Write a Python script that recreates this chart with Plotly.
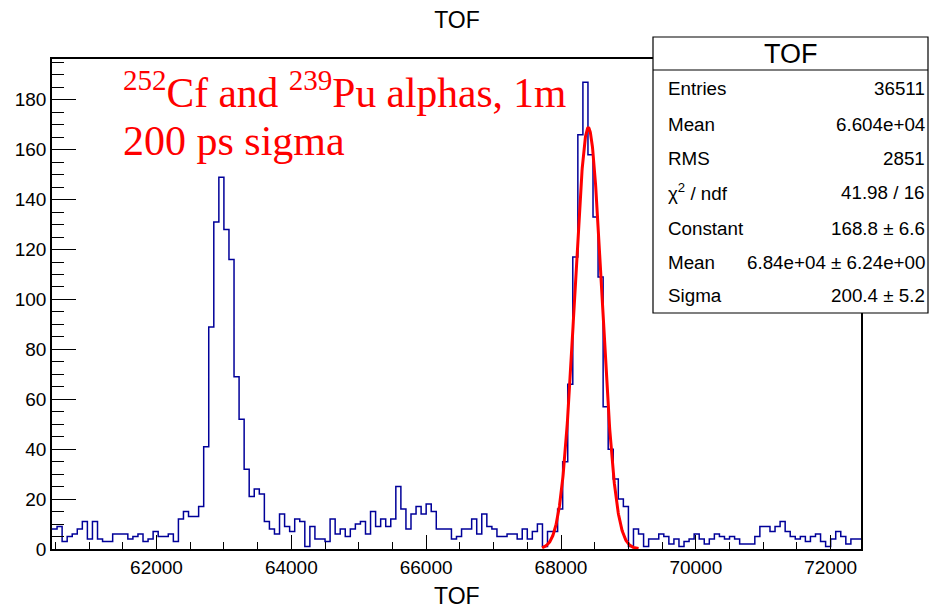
import numpy as np
import plotly.graph_objects as go

# ---------------- data ----------------
bin_lo = 60450.0
bin_width = 75.0
counts = [
    8, 9, 3, 5, 6, 8, 11, 4, 11, 4, 3, 3, 6, 6, 6, 4, 5, 6, 3, 4,
    7, 5, 5, 6, 3, 12, 15, 13, 13, 17, 41,
    89, 131, 149, 128, 116, 69, 52, 32, 21, 24, 22,
    11, 8, 6, 14, 9, 7, 12, 11, 1, 9, 4, 4, 3, 12, 6, 8, 5, 8,
    10, 11, 6, 15, 9, 12, 9, 12, 25, 16,
    8, 14, 17, 14, 18, 15, 8, 8, 8, 4, 5, 8, 8, 12, 6, 14, 9, 8, 5, 5,
    6, 6, 4, 8, 4, 7, 10, 1, 7, 7,
    16, 35, 66, 117, 166, 187, 158, 133, 109, 57, 40, 28, 20,
    17, 1, 8, 6, 1, 4, 4, 6, 5, 2,
    4, 1, 3, 4, 6, 4, 2, 4, 6, 5,
    4, 5, 4, 2, 2, 2, 5, 9, 9, 7,
    9, 11, 7, 5, 4, 5, 3, 5, 6, 3,
    1, 4, 7, 5, 2, 4, 4,
]

# Gaussian fit parameters (from the stats box)
fit_constant = 168.8
fit_mean = 68405.0
fit_sigma = 200.4
fit_range = [67720.0, 69150.0]

stat_labels = ["Entries", "Mean", "RMS", "χ<sup>2</sup> / ndf",
               "Constant", "Mean", "Sigma"]
stat_values = ["36511", "6.604e+04", "2851", "41.98 / 16",
               "168.8 ± 6.6", "6.84e+04 ± 6.24e+00", "200.4 ± 5.2"]

x_tick_start, x_tick_step = 62000, 2000
y_tick_step = 20

# ---------------- figure ----------------
W, H = 930, 608
ML, MR, MT, MB = 52, 69, 59, 59
PW, PH = W - ML - MR, H - MT - MB


def px_x(px):
    return (px - ML) / PW


def px_y(py):
    return (H - MB - py) / PH


edges = bin_lo + bin_width * np.arange(len(counts) + 1)
hx = list(edges)
hy = list(counts) + [counts[-1]]

xf = np.linspace(fit_range[0], fit_range[1], 400)
yf = fit_constant * np.exp(-0.5 * ((xf - fit_mean) / fit_sigma) ** 2)

fig = go.Figure()
fig.add_trace(go.Scatter(x=hx, y=hy, mode="lines", line_shape="hv",
                         line=dict(color="#000099", width=1.5),
                         showlegend=False, hoverinfo="skip"))
fig.add_trace(go.Scatter(x=xf, y=yf, mode="lines",
                         line=dict(color="#ff0000", width=3),
                         showlegend=False, hoverinfo="skip"))

font_main = "Liberation Sans, Arial, Helvetica, sans-serif"
font_serif = "Liberation Serif, Times New Roman, serif"

ymax = max(counts) * 1.05

fig.update_layout(
    width=W, height=H, autosize=False,
    margin=dict(l=ML, r=MR, t=MT, b=MB, pad=0),
    paper_bgcolor="white", plot_bgcolor="white",
    font=dict(family=font_main, color="black", size=19),
    title=dict(text="TOF", x=px_x(457), xref="paper", xanchor="center",
               y=1 - 20 / H, yref="container", yanchor="middle",
               font=dict(size=23, family=font_main, color="black")),
    xaxis=dict(range=[bin_lo, edges[-1]], showline=True, linecolor="black",
               linewidth=1.5, mirror=True, ticks="inside", ticklen=14,
               tickwidth=1.2, tickcolor="black", tickmode="linear",
               tick0=x_tick_start, dtick=x_tick_step, tickformat="d",
               showgrid=False, zeroline=False,
               tickfont=dict(size=19, family=font_main, color="black"),
               minor=dict(ticks="inside", ticklen=7, dtick=500,
                          tick0=x_tick_start, tickcolor="black",
                          tickwidth=1, showgrid=False)),
    yaxis=dict(range=[0, ymax], showline=True, linecolor="black",
               linewidth=1.5, mirror=True, ticks="inside", ticklen=24,
               tickwidth=1.2, tickcolor="black", tickmode="linear",
               tick0=0, dtick=y_tick_step, showgrid=False, zeroline=False,
               tickfont=dict(size=19, family=font_main, color="black"),
               minor=dict(ticks="inside", ticklen=12, dtick=5, tick0=0,
                          tickcolor="black", tickwidth=1, showgrid=False)),
)

# x-axis title
fig.add_annotation(text="TOF", xref="paper", yref="paper",
                   x=px_x(457), y=px_y(596), xanchor="center",
                   yanchor="middle", showarrow=False,
                   font=dict(size=23, family=font_main, color="black"))

# red text
fig.add_annotation(text="<sup>252</sup>Cf and <sup>239</sup>Pu alphas, 1m",
                   xref="paper", yref="paper", x=px_x(121), y=px_y(90),
                   xanchor="left", yanchor="middle", showarrow=False,
                   font=dict(size=41.5, family=font_serif, color="#ff0000"))
fig.add_annotation(text="200 ps sigma",
                   xref="paper", yref="paper", x=px_x(121), y=px_y(141),
                   xanchor="left", yanchor="middle", showarrow=False,
                   font=dict(size=42, family=font_serif, color="#ff0000"))

# stats box
bx0, bx1, by0, by1 = 653, 928, 37, 313
fig.add_shape(type="rect", xref="paper", yref="paper",
              x0=px_x(bx0), x1=px_x(bx1), y0=px_y(by1), y1=px_y(by0),
              line=dict(color="black", width=1.2), fillcolor="white",
              layer="above")
fig.add_shape(type="line", xref="paper", yref="paper",
              x0=px_x(bx0), x1=px_x(bx1), y0=px_y(70), y1=px_y(70),
              line=dict(color="black", width=1.2), layer="above")
fig.add_annotation(text="TOF", xref="paper", yref="paper",
                   x=px_x((bx0 + bx1) / 2), y=px_y(54), xanchor="center",
                   yanchor="middle", showarrow=False,
                   font=dict(size=27, family=font_main, color="black"))
row_y = [89, 124, 158, 192, 228, 262, 295]
for lab, val, ry in zip(stat_labels, stat_values, row_y):
    fig.add_annotation(text=lab, xref="paper", yref="paper",
                       x=px_x(666), y=px_y(ry), xanchor="left",
                       yanchor="middle", showarrow=False,
                       font=dict(size=18.8, family=font_main, color="black"))
    fig.add_annotation(text=val, xref="paper", yref="paper",
                       x=px_x(927), y=px_y(ry), xanchor="right",
                       yanchor="middle", showarrow=False,
                       font=dict(size=18.8, family=font_main, color="black"))

fig.write_html("out.html")
